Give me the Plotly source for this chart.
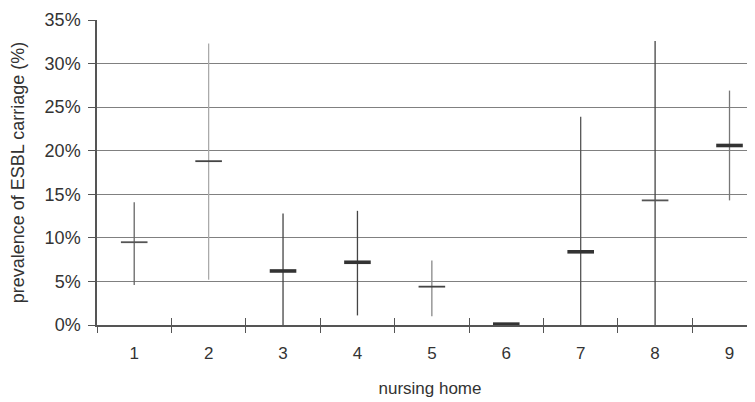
import plotly.graph_objects as go

# ---- data ----
homes = [1, 2, 3, 4, 5, 6, 7, 8, 9]
home_labels = ["1", "2", "3", "4", "5", "6", "7", "8", "9"]
prevalence = [9.5, 18.8, 6.2, 7.2, 4.4, 0.1, 8.4, 14.3, 20.6]
ci_upper = [14.1, 32.3, 12.8, 13.1, 7.4, 0.1, 23.9, 32.6, 26.9]
ci_lower = [4.6, 5.2, 0.0, 1.1, 1.0, 0.0, 0.0, 0.0, 14.3]
y_ticks = [0, 5, 10, 15, 20, 25, 30, 35]
y_tick_labels = ["0%", "5%", "10%", "15%", "20%", "25%", "30%", "35%"]

# ---- styles ----
mark_width = [1.8, 1.8, 3.6, 3.6, 1.8, 3.6, 3.6, 1.8, 3.6]
mark_color = ["#555", "#444", "#333", "#333", "#444", "#333", "#333", "#555", "#333"]
bar_color = ["#666", "#aaa", "#444", "#444", "#888", "#444", "#555", "#444", "#777"]

FONT = "Liberation Sans, Arial, sans-serif"

fig = go.Figure()
for i, h in enumerate(homes):
    fig.add_trace(go.Scatter(
        x=[h], y=[prevalence[i]],
        mode="markers",
        marker=dict(symbol="line-ew", size=19,
                    line=dict(width=mark_width[i], color=mark_color[i])),
        error_y=dict(type="data", symmetric=False,
                     array=[ci_upper[i] - prevalence[i]],
                     arrayminus=[prevalence[i] - ci_lower[i]],
                     width=0, thickness=1.3, color=bar_color[i],
                     visible=(ci_upper[i] - ci_lower[i]) > 0.5),
        showlegend=False, hoverinfo="skip", cliponaxis=False,
    ))

# invisible trace on overlay axis so it is drawn
fig.add_trace(go.Scatter(x=[1], y=[0], xaxis="x2", mode="markers",
                         marker=dict(opacity=0), showlegend=False, hoverinfo="skip"))

boundaries = [h - 0.5 for h in homes] + [homes[-1] + 0.5]
xr = [0.5, 9.45]

fig.update_layout(
    width=755, height=402,
    margin=dict(l=89, r=0, t=12, b=85),
    paper_bgcolor="white", plot_bgcolor="white",
    font=dict(family=FONT, color="#333"),
    xaxis=dict(
        range=xr, tickmode="array", tickvals=homes, ticktext=home_labels,
        ticks="", showgrid=False, zeroline=False,
        showline=True, linecolor="#555", linewidth=1.5,
        tickfont=dict(size=17, color="#333"), ticklabelstandoff=12,
        minor=dict(tickmode="array", tickvals=boundaries, ticks="outside",
                   ticklen=6, tickcolor="#555", tickwidth=1, showgrid=False),
        title=dict(text="nursing home", font=dict(size=17, color="#333"), standoff=20),
    ),
    xaxis2=dict(
        range=xr, overlaying="x", anchor="y", side="bottom",
        tickmode="array", tickvals=boundaries, ticks="inside", ticklen=7,
        tickcolor="#555", tickwidth=1, showticklabels=False,
        showgrid=False, zeroline=False, showline=False,
    ),
    yaxis=dict(
        range=[0, 35], tickmode="array", tickvals=y_ticks, ticktext=y_tick_labels,
        ticks="outside", ticklen=7, tickcolor="#555", tickwidth=1,
        showgrid=True, gridcolor="#808080", gridwidth=1.2, zeroline=False,
        showline=True, linecolor="#555", linewidth=1.5,
        tickfont=dict(size=18, color="#333"), ticklabelstandoff=4,
        title=dict(text="prevalence of ESBL carriage (%)",
                   font=dict(size=18, color="#333"), standoff=18),
    ),
)

fig.write_html("out.html")
